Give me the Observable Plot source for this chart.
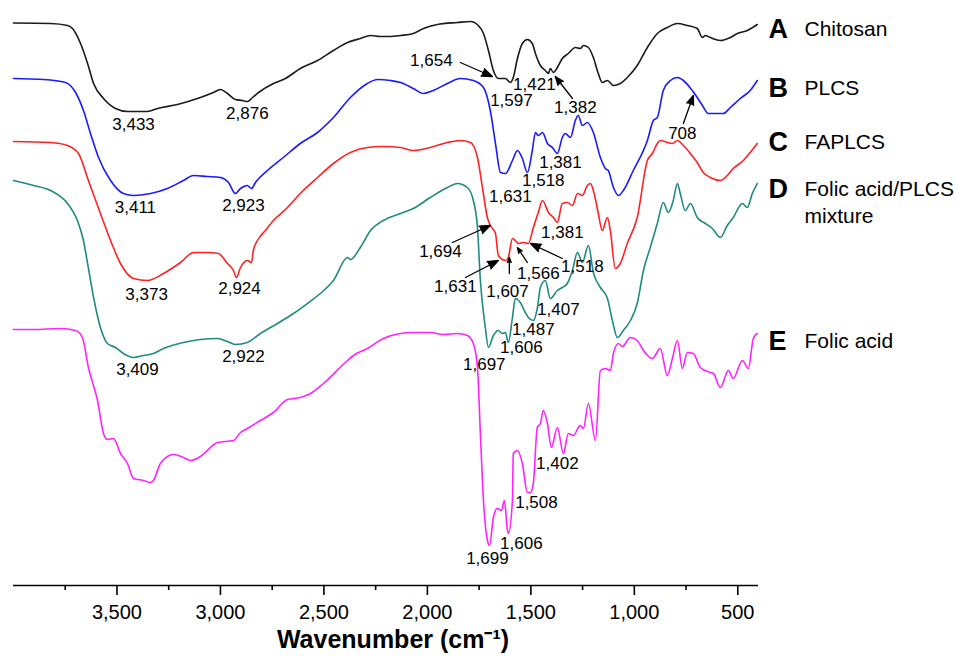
<!DOCTYPE html>
<html>
<head>
<meta charset="utf-8">
<script src="https://cdn.jsdelivr.net/npm/d3@7"></script>
<script src="https://cdn.jsdelivr.net/npm/@observablehq/plot@0.6"></script>
<style>
  html, body { margin: 0; padding: 0; background: #fff; }
  #chart svg { display: block; }
</style>
</head>
<body>
<div id="chart"></div>
<script>
// ---- Tick labels ----
const xTicksMajor = [3500, 3000, 2500, 2000, 1500, 1000, 500];
const xTicksMinor = [3750, 3250, 2750, 2250, 1750, 1250, 750];
const xTitle = "Wavenumber (cm\u207B\u00B9)";

// ---- Series (wavenumber cm-1, offset transmittance a.u.) ----
const seriesNames = ["Chitosan", "PLCS", "FAPLCS", "Folic acid/PLCS mixture", "Folic acid"];
const seriesLetters = ["A", "B", "C", "D", "E"];
const seriesColors = ["#1a1a1a", "#1a1aff", "#ff2222", "#1f8b80", "#ff22ff"];

const chitosan = [[4000,112.5],[3821,112.4],[3739,112],[3715,111.4],[3676,108.4],[3642,104.4],[3613,100.4],[3565,97.4],[3507,95.4],[3449,94.8],[3353,94.8],[3304,95.4],[3208,96.2],[3097,97.6],[3034,98.6],[3000,99.2],[2966,98.4],[2928,97.2],[2894,97],[2870,96.8],[2845,97.6],[2816,98.6],[2744,100.4],[2686,101.4],[2614,103.4],[2531,105],[2454,107],[2386,108.6],[2324,109.4],[2275,110],[2227,109.8],[2179,109.8],[2130,110],[2068,110.4],[2019,111.4],[1952,112.2],[1855,112.6],[1792,112.8],[1754,112],[1729,110.4],[1705,107],[1681,103],[1657,101.4],[1623,101.4],[1599,100.6],[1585,101.6],[1565,105.4],[1541,108.4],[1517,109.2],[1493,108.4],[1478,106.4],[1454,104],[1430,103],[1415,102.4],[1406,103.4],[1391,102.6],[1372,103.6],[1348,105.4],[1319,106.4],[1285,107.6],[1261,107.4],[1246,108],[1222,107.6],[1198,105.6],[1174,102.4],[1155,100.6],[1130,101],[1101,100],[1068,100.4],[1034,101.6],[986,104],[937,107.6],[889,110.4],[841,111.6],[792,112.4],[744,112],[696,111.4],[671,109.6],[657,110],[633,109.6],[584,109],[536,109.6],[502,110.4],[454,111],[406,112.2]];

const plcs = [[4000,101.4],[3855,101.2],[3749,100.6],[3700,98.6],[3662,95],[3628,90.4],[3589,85.6],[3531,81],[3469,78.4],[3420,78],[3338,78.4],[3256,79.4],[3179,81],[3130,82],[3063,81.8],[3000,81.6],[2961,80.6],[2928,78.4],[2903,79.4],[2870,80],[2850,79.4],[2831,80.6],[2773,83],[2696,85.6],[2614,88.4],[2531,90.6],[2454,93.6],[2372,97.6],[2290,100.4],[2241,101.2],[2179,101],[2130,100.6],[2068,99.4],[2019,98.4],[1971,99],[1903,100.4],[1841,101.4],[1778,101],[1729,99.6],[1696,95],[1671,88.4],[1647,82.6],[1623,82.4],[1589,85],[1565,87],[1541,85.4],[1517,82.6],[1493,87],[1478,90.6],[1464,90],[1444,90.6],[1420,88.4],[1396,87.6],[1372,86.4],[1348,89.6],[1333,90.4],[1309,89.6],[1285,93],[1271,94],[1251,92],[1227,92.6],[1198,90.6],[1164,85.6],[1140,83.4],[1126,83],[1101,79.6],[1077,78],[1053,79],[1005,83],[937,89],[908,93],[889,93.6],[860,99],[826,101],[792,101.6],[763,101],[720,99],[696,97.6],[671,96],[642,94.4],[618,94.4],[570,94.4],[536,95.6],[488,97.4],[440,99],[406,101]];

const faplcs = [[4000,88.8],[3821,88.6],[3739,88],[3686,86.4],[3638,81],[3580,74.4],[3531,69],[3483,64.4],[3420,61.4],[3353,61],[3275,62.4],[3193,64.6],[3130,66.6],[3063,66.6],[3010,66.4],[2966,64.4],[2937,63],[2923,61.6],[2903,63.6],[2870,65],[2850,64.6],[2841,67],[2821,69],[2783,71],[2744,73],[2676,75.6],[2614,78.4],[2531,81.6],[2454,84.4],[2372,86.6],[2290,87.6],[2213,87.8],[2130,87.6],[2068,87],[1986,87.6],[1903,88.6],[1841,89],[1792,88.6],[1758,85.6],[1734,79.6],[1710,73.6],[1696,72],[1671,70.4],[1657,66],[1623,65],[1609,65.6],[1589,69.4],[1575,69],[1560,68.4],[1536,68.6],[1512,68.4],[1488,71.6],[1464,74.6],[1444,77],[1415,74.6],[1391,73.6],[1372,72.6],[1348,76.4],[1324,76.6],[1299,76],[1275,78.4],[1251,78],[1227,80],[1212,80.4],[1198,79],[1174,74.4],[1155,71],[1130,73.6],[1116,71],[1092,63.4],[1068,64.4],[1034,68.4],[986,73.6],[937,85],[913,86.4],[889,88.4],[874,89],[841,88.6],[816,88.4],[792,89],[763,88],[729,86.4],[696,84.6],[667,82.6],[633,81.6],[584,81],[551,82],[522,83.4],[473,85],[440,86.6],[406,88.4]];

const mixture = [[4000,81],[3903,80],[3821,79],[3739,76.4],[3691,73],[3662,69],[3642,64.4],[3613,57.6],[3580,51.6],[3546,48.4],[3507,47.6],[3469,46.4],[3420,45.6],[3372,46],[3324,46.4],[3275,47.4],[3179,48.6],[3097,49.2],[3014,49.4],[2966,48.8],[2928,48.2],[2870,48.6],[2807,50.4],[2725,52.4],[2647,54.4],[2580,56.4],[2517,58.4],[2454,61],[2386,65.6],[2372,65.2],[2324,67.6],[2275,71],[2213,73],[2130,74.4],[2068,75.4],[1986,77.6],[1903,79.6],[1855,80.4],[1807,79.6],[1778,77],[1758,71.6],[1744,61],[1720,51.6],[1705,47.6],[1681,50],[1657,51],[1638,50.4],[1623,50.6],[1609,48.6],[1589,53.6],[1575,57.4],[1551,56.6],[1527,54.6],[1512,53.6],[1488,53],[1469,55.4],[1454,59.6],[1430,61],[1406,57.4],[1372,59],[1348,59.6],[1324,60.4],[1299,63],[1275,66.6],[1251,64.6],[1222,68],[1198,62.6],[1164,59.6],[1130,57.4],[1106,53],[1082,49.6],[1053,51],[1019,53],[986,56.4],[956,63],[923,67.6],[889,72.4],[860,76.6],[836,74.6],[812,77],[792,80.4],[778,78.4],[754,75],[729,76.4],[696,73.6],[657,72.4],[623,71.4],[584,69.6],[551,72],[522,73.6],[478,76.4],[454,75.6],[430,78.4],[406,80.4]];

const folicAcid = [[4000,51.2],[3903,51.2],[3773,51.4],[3700,51],[3667,49.6],[3638,43.6],[3594,37],[3565,30.4],[3546,29.2],[3517,29.4],[3483,26.4],[3449,24.4],[3420,21.4],[3372,21],[3338,20.6],[3324,21],[3290,24.4],[3227,26.2],[3179,25.6],[3145,25],[3097,25.8],[3014,28.6],[2937,29],[2903,30.6],[2870,31.4],[2807,33],[2744,34.6],[2676,37.2],[2614,37.6],[2565,38.4],[2502,40.4],[2386,45],[2357,46],[2290,47.4],[2213,49.4],[2130,50.4],[2068,50.6],[1986,50.6],[1923,50.2],[1855,50.4],[1807,50],[1778,48.4],[1758,43.6],[1744,30.4],[1729,17],[1710,9],[1700,8],[1681,13.6],[1662,15.4],[1642,15],[1628,17],[1613,11],[1609,10.4],[1589,17],[1585,26.4],[1565,27],[1541,24.4],[1517,18.6],[1502,18.6],[1488,20.4],[1469,31.6],[1454,32.4],[1440,35],[1420,32.4],[1401,27.6],[1372,31.6],[1343,26.4],[1319,30.4],[1295,30],[1261,32],[1246,31.4],[1222,36.4],[1188,29],[1164,43],[1140,43.4],[1116,43],[1101,46.4],[1077,48.4],[1058,47.8],[1019,49.6],[986,49],[956,47],[913,45.4],[874,47.4],[841,42],[816,45.4],[792,49],[768,43.4],[744,46.6],[715,46.4],[681,43.6],[633,42.6],[618,42.4],[584,39.6],[546,43],[522,41.4],[478,45],[449,43.4],[425,49.4],[406,50.4]];

const seriesData = [chitosan, plcs, faplcs, mixture, folicAcid];

// ---- Peak annotations: [label, wavenumber, transmittance] ----
const peakLabels = [
  ["3,433",3420,92.2],["2,876",2870,94.4],
  ["3,411",3411,75.6],["2,923",2889,76],
  ["3,373",3357,58.2],["2,924",2908,59.4],
  ["3,409",3401,43.2],["2,922",2889,45.8],
  ["1,654",1981,105],["1,597",1594,97],["1,421",1483,100.2],["1,382",1285,95.6],
  ["1,631",1599,77.8],["1,518",1440,80.9],["1,381",1357,84.5],["708",768,90.4],
  ["1,381",1348,70.6],["1,694",1937,66.8],["1,631",1865,59.8],["1,607",1613,58.8],["1,566",1464,62.4],["1,518",1251,63.8],
  ["1,407",1367,55.2],["1,487",1488,51.2],["1,606",1546,47.6],["1,697",1725,44.2],
  ["1,402",1372,24.4],["1,508",1473,16.6],["1,606",1546,8.4],["1,699",1710,5.4]
];
// ---- Arrows: [from wn, from T, to wn, to T] ----
const peakArrows = [
  [1841,104.6,1686,101.8],
  [1299,97.4,1382,101.8],
  [763,92.4,715,98],
  [1879,68.6,1696,72],
  [1816,61.6,1657,65],
  [1604,62.4,1604,65.6],
  [1517,64.6,1565,67.6],
  [1348,65.4,1502,68.4]
];
// ---- Legend rows: [letter, name line 1, name line 2, T position] ----
const legendRows = [
  ["A","Chitosan","",111.2],
  ["B","PLCS","",99.4],
  ["C","FAPLCS","",88.6],
  ["D","Folic acid/PLCS","mixture",79.2],
  ["E","Folic acid","",48.8]
];

const rows = (arr, i) => arr.map(([wn, t]) => ({wn, t, series: seriesNames[i]}));
const font = "'Liberation Sans', Arial, Helvetica, sans-serif";

const lineMarks = seriesData.map((arr, i) =>
  Plot.line(rows(arr, i), {x: "wn", y: "t", stroke: seriesColors[i], strokeWidth: 1.6, curve: "monotone-x"})
);

const chart = Plot.plot({
  width: 957,
  height: 658,
  marginLeft: 13,
  marginRight: 199,
  marginTop: 0,
  marginBottom: 73,
  style: {fontFamily: font, color: "#000", background: "#fff", overflow: "visible"},
  x: {domain: [4000, 400], label: null},
  y: {domain: [0, 117], axis: null},
  marks: [
    ...lineMarks,
    Plot.ruleY([0], {stroke: "#000", strokeWidth: 1.6}),
    Plot.axisX({ticks: xTicksMajor, tickSize: 10, tickPadding: 9, tickFormat: d3.format(","), fontSize: 20, stroke: "#000", strokeWidth: 1.6, label: null}),
    Plot.axisX({ticks: xTicksMinor, tickSize: 5, tickFormat: () => "", stroke: "#000", strokeWidth: 1.6, label: null}),
    Plot.text([xTitle], {frameAnchor: "bottom", dy: 62, dx: 7, fontWeight: "bold", fontSize: 25, fill: "#000"}),
    Plot.arrow(peakArrows, {x1: d => d[0], y1: d => d[1], x2: d => d[2], y2: d => d[3], stroke: "#000", fill: "#000", strokeWidth: 1.3, headLength: 13, headAngle: 42}),
    Plot.text(peakLabels, {x: d => d[1], y: d => d[2], text: d => d[0], fontSize: 17, fill: "#000", textAnchor: "middle", lineAnchor: "middle"}),
    Plot.text(legendRows, {frameAnchor: "right", y: d => d[3], text: d => d[0], dx: 10, textAnchor: "start", fontSize: 27, fontWeight: "bold", fill: "#000"}),
    Plot.text(legendRows, {frameAnchor: "right", y: d => d[3], text: d => d[1], dx: 46, textAnchor: "start", fontSize: 21, fill: "#000"}),
    Plot.text(legendRows.filter(d => d[2]), {frameAnchor: "right", y: d => d[3], text: d => d[2], dx: 46, dy: 27, textAnchor: "start", fontSize: 21, fill: "#000"})
  ]
});
document.getElementById("chart").appendChild(chart);
</script>
</body>
</html>
